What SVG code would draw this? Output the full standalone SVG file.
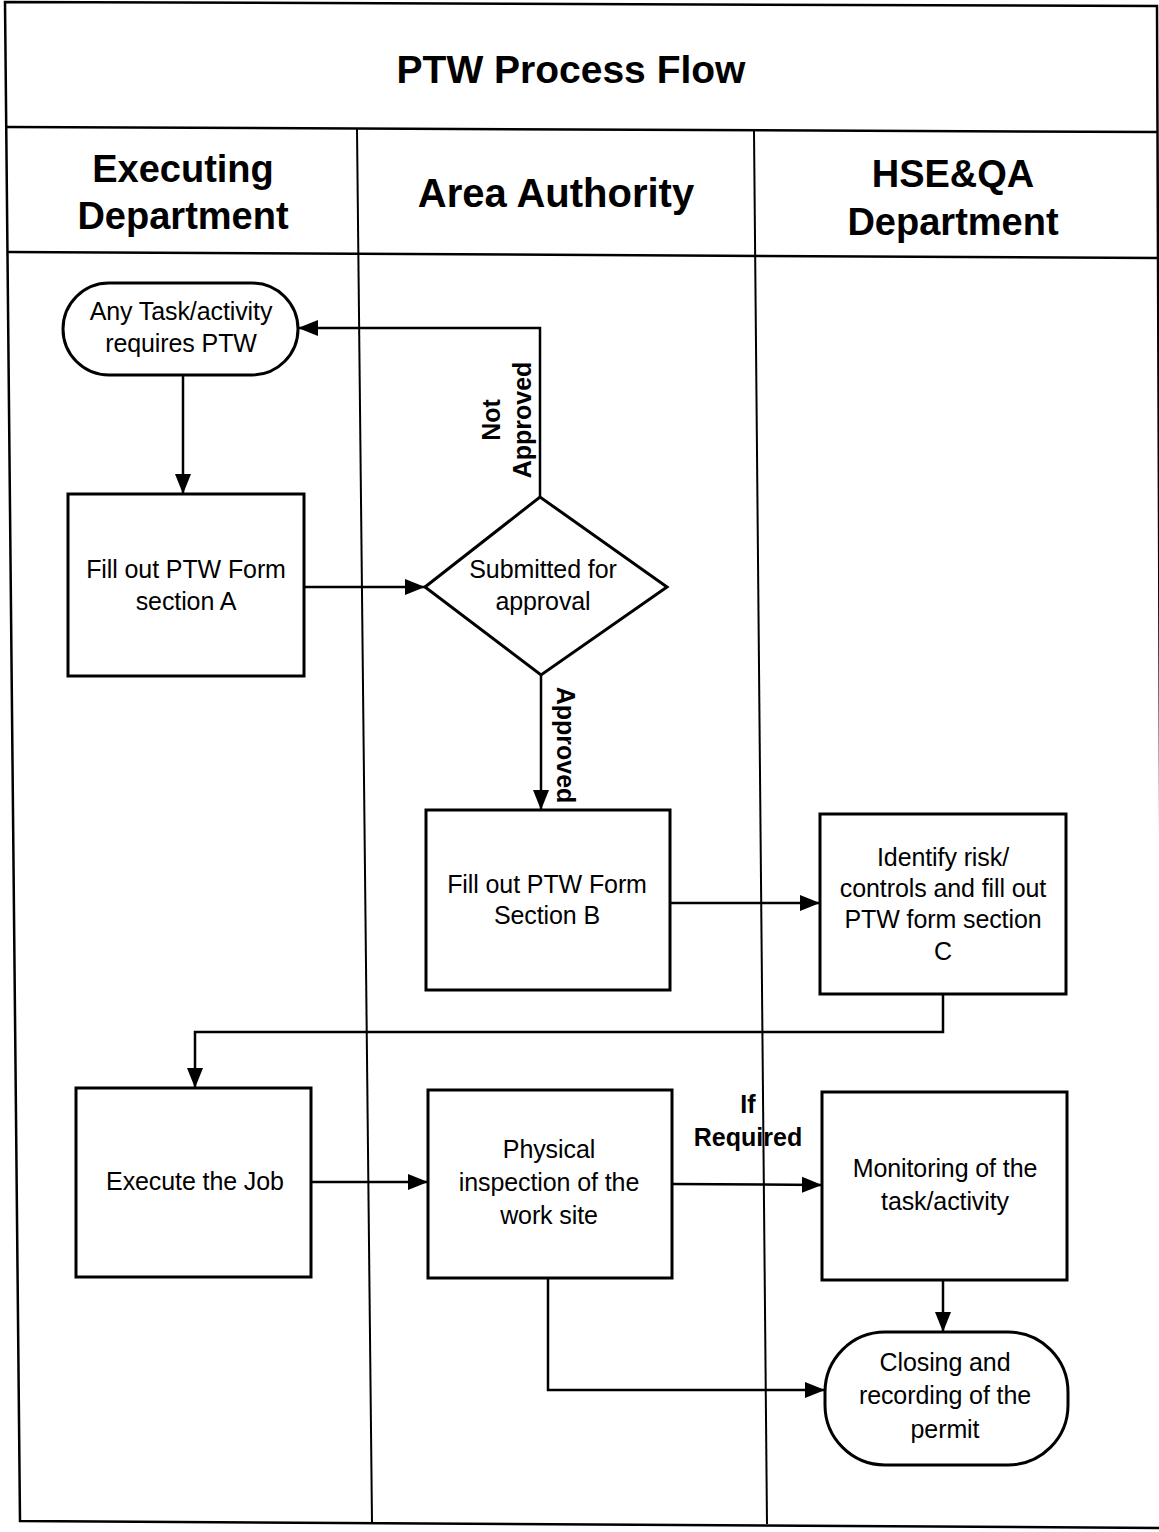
<svg xmlns="http://www.w3.org/2000/svg" width="1159" height="1532" viewBox="0 0 1159 1532">
<style>
.frame{fill:none;stroke:#000;stroke-width:2.5}
.lane{fill:none;stroke:#000;stroke-width:2}
.box{fill:#fff;stroke:#000;stroke-width:3}
.con{fill:none;stroke:#000;stroke-width:2.5}
.t{font-family:"Liberation Sans",Arial,sans-serif;font-size:25px;text-anchor:middle;fill:#000;letter-spacing:-0.1px}
.h{font-family:"Liberation Sans",Arial,sans-serif;font-size:38px;font-weight:bold;text-anchor:middle;fill:#000}
.title{font-family:"Liberation Sans",Arial,sans-serif;font-size:39px;font-weight:bold;text-anchor:middle;fill:#000}
.lbl{font-family:"Liberation Sans",Arial,sans-serif;font-size:25px;font-weight:bold;text-anchor:middle;fill:#000}
</style>
<defs>
<marker id="arr" markerUnits="userSpaceOnUse" markerWidth="22" markerHeight="18" refX="20" refY="9" orient="auto">
<path d="M0,1 L20,9 L0,17 Z" fill="#000"/>
</marker>
</defs>
<rect width="1159" height="1532" fill="#fff"/>
<g id="frame">
<polygon class="frame" points="5,2 1157,6 1163,1528 20,1521"/>
<line class="frame" x1="6" y1="127" x2="1157" y2="132"/>
<line class="frame" x1="7" y1="252" x2="1158" y2="258"/>
<line class="lane" x1="357" y1="129" x2="372" y2="1522"/>
<line class="lane" x1="754" y1="131" x2="767" y2="1524"/>
</g>
<g id="title"><text class="title" x="571" y="83">PTW Process Flow</text></g>
<g id="lane-executing"><text class="h" x="183" y="182">Executing</text><text class="h" x="183" y="229">Department</text></g>
<g id="lane-area"><text class="h" x="556" y="207" style="font-size:40px">Area Authority</text></g>
<g id="lane-hse"><text class="h" x="953" y="187">HSE&amp;QA</text><text class="h" x="953" y="235">Department</text></g>

<g id="connectors">
<line class="con" x1="183" y1="375" x2="183" y2="494" marker-end="url(#arr)"/>
<line class="con" x1="304" y1="587" x2="425" y2="587" marker-end="url(#arr)"/>
<polyline class="con" points="540,497 540,328 298,328" marker-end="url(#arr)"/>
<line class="con" x1="541" y1="675" x2="541" y2="810" marker-end="url(#arr)"/>
<line class="con" x1="670" y1="903" x2="820" y2="903" marker-end="url(#arr)"/>
<polyline class="con" points="943,994 943,1032 195,1032 195,1088" marker-end="url(#arr)"/>
<line class="con" x1="311" y1="1182" x2="428" y2="1182" marker-end="url(#arr)"/>
<line class="con" x1="672" y1="1184" x2="822" y2="1185" marker-end="url(#arr)"/>
<line class="con" x1="943" y1="1280" x2="943" y2="1332" marker-end="url(#arr)"/>
<polyline class="con" points="548,1278 548,1390 825,1390" marker-end="url(#arr)"/>
<text class="lbl" transform="translate(500,420) rotate(-90)">Not</text>
<text class="lbl" transform="translate(531,420) rotate(-90)">Approved</text>
<text class="lbl" transform="translate(557,745) rotate(90)">Approved</text>
<text class="lbl" x="748" y="1113">If</text>
<text class="lbl" x="748" y="1146">Required</text>
</g>

<g id="start"><rect class="box" x="63" y="283" width="235" height="92" rx="46" ry="46"/><text class="t" x="181" y="320">Any Task/activity</text><text class="t" x="181" y="352">requires PTW</text></g>
<g id="formA"><rect class="box" x="68" y="494" width="236" height="182"/><text class="t" x="186" y="578">Fill out PTW Form</text><text class="t" x="186" y="610">section A</text></g>
<g id="decision"><polygon class="box" points="425,587 540,497 667,587 541,675"/><text class="t" x="543" y="578">Submitted for</text><text class="t" x="543" y="610">approval</text></g>
<g id="formB"><rect class="box" x="426" y="810" width="244" height="180"/><text class="t" x="547" y="893">Fill out PTW Form</text><text class="t" x="547" y="924">Section B</text></g>
<g id="formC"><rect class="box" x="820" y="814" width="246" height="180"/><text class="t" x="943" y="866">Identify risk/</text><text class="t" x="943" y="897">controls and fill out</text><text class="t" x="943" y="928">PTW form section</text><text class="t" x="943" y="960">C</text></g>
<g id="execute"><rect class="box" x="76" y="1088" width="235" height="189"/><text class="t" x="195" y="1190">Execute the Job</text></g>
<g id="inspect"><rect class="box" x="428" y="1090" width="244" height="188"/><text class="t" x="549" y="1158">Physical</text><text class="t" x="549" y="1191">inspection of the</text><text class="t" x="549" y="1224">work site</text></g>
<g id="monitor"><rect class="box" x="822" y="1092" width="245" height="188"/><text class="t" x="945" y="1177">Monitoring of the</text><text class="t" x="945" y="1210">task/activity</text></g>
<g id="closing"><rect class="box" x="825" y="1332" width="243" height="133" rx="60" ry="60"/><text class="t" x="945" y="1371">Closing and</text><text class="t" x="945" y="1404">recording of the</text><text class="t" x="945" y="1438">permit</text></g>
</svg>
